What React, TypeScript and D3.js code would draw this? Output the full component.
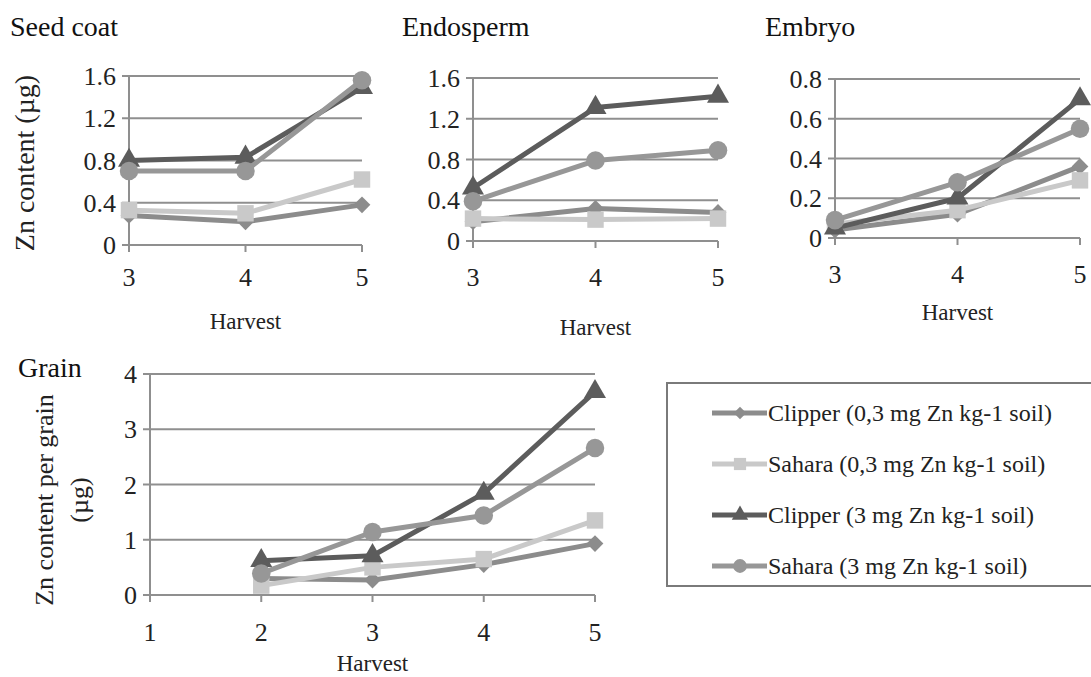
import React, { useRef, useEffect } from "react";
import * as d3 from "d3";

// Data
const HARVEST_TOP = [3, 4, 5];
const HARVEST_GRAIN = [2, 3, 4, 5];
const GRAIN_TICKS = [1, 2, 3, 4, 5];

const SERIES_NAMES = [
  "Clipper (0,3 mg Zn kg-1 soil)",
  "Sahara (0,3 mg Zn kg-1 soil)",
  "Clipper (3 mg Zn kg-1 soil)",
  "Sahara (3 mg Zn kg-1 soil)",
];

// Seed coat
const seedClipperLow = [0.28, 0.22, 0.38];
const seedSaharaLow = [0.33, 0.3, 0.62];
const seedClipperHigh = [0.8, 0.83, 1.49];
const seedSaharaHigh = [0.7, 0.7, 1.56];

// Endosperm
const endoClipperLow = [0.19, 0.32, 0.28];
const endoSaharaLow = [0.22, 0.21, 0.22];
const endoClipperHigh = [0.52, 1.31, 1.42];
const endoSaharaHigh = [0.39, 0.79, 0.89];

// Embryo
const embClipperLow = [0.04, 0.12, 0.36];
const embSaharaLow = [0.07, 0.14, 0.29];
const embClipperHigh = [0.05, 0.2, 0.7];
const embSaharaHigh = [0.09, 0.28, 0.55];

// Grain
const grainClipperLow = [0.3, 0.27, 0.55, 0.93];
const grainSaharaLow = [0.17, 0.5, 0.65, 1.35];
const grainClipperHigh = [0.62, 0.71, 1.84, 3.68];
const grainSaharaHigh = [0.39, 1.14, 1.44, 2.66];

const SEED_TICKS = [0, 0.4, 0.8, 1.2, 1.6];
const EMB_TICKS = [0, 0.2, 0.4, 0.6, 0.8];
const GRAIN_Y_TICKS = [0, 1, 2, 3, 4];

const COLORS = ["#8c8c8c", "#c9c9c9", "#5c5c5c", "#979797"];
const SHAPES = [d3.symbolSquare, d3.symbolSquare, d3.symbolTriangle, d3.symbolCircle];
const SIZES = [140, 270, 210, 270];
const ROT = [45, 0, 0, 0];

const FONT = '"Liberation Serif", "DejaVu Serif", serif';
const GRID = "#8f8f8f";

function App() {
  const svgRef = useRef<SVGSVGElement>(null);

  useEffect(() => {
    const svg = d3.select(svgRef.current);
    svg.selectAll("*").remove();
    svg.style("font-family", FONT);

    const panels = [
      {
        title: "Seed coat", titleX: 10, titleY: 36,
        xs: HARVEST_TOP, ticksX: HARVEST_TOP, yTicks: SEED_TICKS, fmt: (d: number) => (d === 0 ? "0" : d.toFixed(1)),
        left: 129, right: 362, top: 76, bottom: 245, xDomain: [3, 5], yMax: 1.6,
        series: [seedClipperLow, seedSaharaLow, seedClipperHigh, seedSaharaHigh],
        harvestY: 329, yLabel: ["Zn content (µg)"], yLabelX: [34], yLabelSize: 28, tickLabelY: 286,
      },
      {
        title: "Endosperm", titleX: 402, titleY: 36,
        xs: HARVEST_TOP, ticksX: HARVEST_TOP, yTicks: SEED_TICKS, fmt: (d: number) => (d === 0 ? "0" : d.toFixed(1)),
        left: 473, right: 718, top: 78, bottom: 241, xDomain: [3, 5], yMax: 1.6,
        series: [endoClipperLow, endoSaharaLow, endoClipperHigh, endoSaharaHigh],
        harvestY: 335, yLabel: [], yLabelX: [], yLabelSize: 28, tickLabelY: 286,
      },
      {
        title: "Embryo", titleX: 765, titleY: 36,
        xs: HARVEST_TOP, ticksX: HARVEST_TOP, yTicks: EMB_TICKS, fmt: (d: number) => (d === 0 ? "0" : d.toFixed(1)),
        left: 835, right: 1080, top: 79, bottom: 238, xDomain: [3, 5], yMax: 0.8,
        series: [embClipperLow, embSaharaLow, embClipperHigh, embSaharaHigh],
        harvestY: 320, yLabel: [], yLabelX: [], yLabelSize: 28, tickLabelY: 283,
      },
      {
        title: "Grain", titleX: 18, titleY: 377,
        xs: HARVEST_GRAIN, ticksX: GRAIN_TICKS, yTicks: GRAIN_Y_TICKS, fmt: (d: number) => String(d),
        left: 150, right: 595, top: 374, bottom: 595, xDomain: [1, 5], yMax: 4,
        series: [grainClipperLow, grainSaharaLow, grainClipperHigh, grainSaharaHigh],
        harvestY: 671, yLabel: ["Zn content per grain", "(µg)"], yLabelX: [53, 88], yLabelSize: 26, tickLabelY: 641,
      },
    ];

    panels.forEach((p) => {
      const g = svg.append("g");
      const x = d3.scaleLinear().domain(p.xDomain).range([p.left, p.right]);
      const y = d3.scaleLinear().domain([0, p.yMax]).range([p.bottom, p.top]);

      // gridlines
      g.selectAll(".grid")
        .data(p.yTicks.filter((t) => t > 0))
        .join("line")
        .attr("x1", p.left).attr("x2", p.right)
        .attr("y1", (d) => y(d)).attr("y2", (d) => y(d))
        .attr("stroke", GRID).attr("stroke-width", 2);

      // axes
      g.append("line").attr("x1", p.left).attr("x2", p.right)
        .attr("y1", y(0)).attr("y2", y(0)).attr("stroke", GRID).attr("stroke-width", 2);
      g.append("line").attr("x1", p.left).attr("x2", p.left)
        .attr("y1", y(0) + 6).attr("y2", p.top).attr("stroke", GRID).attr("stroke-width", 2);

      // y ticks
      g.selectAll(".yt").data(p.yTicks).join("line")
        .attr("x1", p.left - 7).attr("x2", p.left)
        .attr("y1", (d) => y(d)).attr("y2", (d) => y(d))
        .attr("stroke", GRID).attr("stroke-width", 2);
      g.selectAll(".yl").data(p.yTicks).join("text")
        .attr("x", p.left - 13).attr("y", (d) => y(d) + 9)
        .attr("text-anchor", "end").style("font-size", "26px").attr("fill", "#222")
        .text((d) => p.fmt(d));

      // x ticks
      g.selectAll(".xt").data(p.ticksX).join("line")
        .attr("x1", (d) => x(d)).attr("x2", (d) => x(d))
        .attr("y1", y(0)).attr("y2", y(0) + 7)
        .attr("stroke", GRID).attr("stroke-width", 2);
      g.selectAll(".xl").data(p.ticksX).join("text")
        .attr("x", (d) => x(d)).attr("y", p.tickLabelY)
        .attr("text-anchor", "middle").style("font-size", "26px").attr("fill", "#222")
        .text((d) => String(d));

      // title, axis label
      g.append("text").attr("x", p.titleX).attr("y", p.titleY)
        .style("font-size", "28px").attr("fill", "#111").text(p.title);
      g.append("text").attr("x", (p.left + p.right) / 2).attr("y", p.harvestY)
        .attr("text-anchor", "middle").style("font-size", "23px").attr("fill", "#222")
        .text("Harvest");
      const midY = p.title === "Grain" ? 500 : 163;
      p.yLabel.forEach((lab, i) => {
        g.append("text")
          .attr("transform", `translate(${p.yLabelX[i]},${midY}) rotate(-90)`)
          .attr("text-anchor", "middle").style("font-size", `${p.yLabelSize}px`).attr("fill", "#222")
          .text(lab);
      });

      // series
      p.series.forEach((vals, si) => {
        const pts = vals.map((v, i) => [x(p.xs[i]), y(v)] as [number, number]);
        g.append("path").attr("d", d3.line()(pts))
          .attr("fill", "none").attr("stroke", COLORS[si]).attr("stroke-width", 5)
          .attr("stroke-linejoin", "round");
        g.selectAll(".m" + si).data(pts).join("path")
          .attr("transform", (d) => `translate(${d[0]},${d[1]}) rotate(${ROT[si]})`)
          .attr("d", d3.symbol().type(SHAPES[si]).size(SIZES[si])())
          .attr("fill", COLORS[si]);
      });
    });

    // legend
    const lg = svg.append("g");
    lg.append("rect").attr("x", 667).attr("y", 383).attr("width", 440).attr("height", 203)
      .attr("fill", "white").attr("stroke", "#7a7a7a").attr("stroke-width", 2);
    const ly = d3.scalePoint().domain(SERIES_NAMES).range([413, 566]);
    SERIES_NAMES.forEach((name, si) => {
      const yy = ly(name) as number;
      lg.append("line").attr("x1", 712).attr("x2", 767).attr("y1", yy).attr("y2", yy)
        .attr("stroke", COLORS[si]).attr("stroke-width", 5);
      lg.append("path").attr("transform", `translate(740,${yy}) rotate(${ROT[si]})`)
        .attr("d", d3.symbol().type(SHAPES[si]).size(SIZES[si] * 0.55)())
        .attr("fill", COLORS[si]);
      lg.append("text").attr("x", 768).attr("y", yy + 8)
        .style("font-size", "24px").attr("fill", "#222").text(name);
    });
  }, []);

  return (
    <svg
      ref={svgRef}
      width={1091}
      height={677}
      style={{ position: "absolute", left: 0, top: 0, background: "white" }}
    />
  );
}

export default App;
